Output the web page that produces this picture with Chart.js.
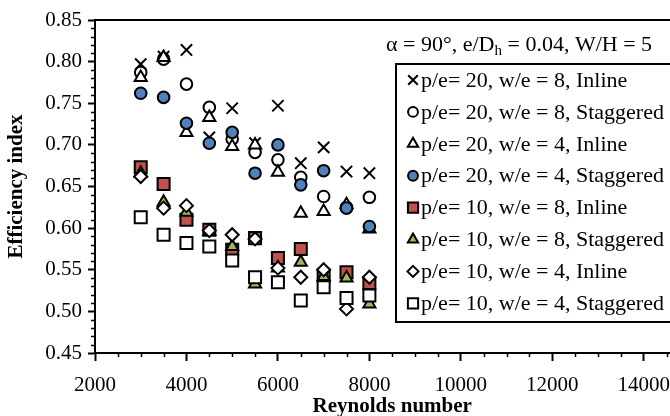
<!DOCTYPE html>
<html><head><meta charset="utf-8">
<script src="https://cdn.jsdelivr.net/npm/chart.js@4/dist/chart.umd.min.js"></script>
<style>
html,body{margin:0;padding:0;background:#fff;overflow:hidden;width:670px;height:416px}
#wrap{position:absolute;left:0;top:0;width:700px;height:416px}
</style></head><body>
<div id="wrap"><canvas id="c"></canvas></div>
<script>
// ---- data ----
const reynolds = [3000, 3500, 4000, 4500, 5000, 5500, 6000, 6500, 7000, 7500, 8000];
const p20w8Inline    = [0.797, 0.806, 0.814, 0.709, 0.744, 0.702, 0.747, 0.678, 0.697, 0.668, 0.666];
const p20w8Staggered = [0.787, 0.803, 0.773, 0.745, 0.707, 0.691, 0.682, 0.661, 0.638, 0.625, 0.637];
const p20w4Inline    = [0.781, 0.805, 0.715, 0.733, 0.698, 0.700, 0.667, 0.618, 0.620, 0.628, 0.599];
const p20w4Staggered = [0.762, 0.757, 0.726, 0.702, 0.715, 0.666, 0.700, 0.652, 0.669, 0.624, 0.602];
const p10w8Inline    = [0.673, 0.653, 0.610, 0.598, 0.574, 0.588, 0.564, 0.575, 0.543, 0.547, 0.534];
const p10w8Staggered = [0.666, 0.631, 0.619, 0.596, 0.578, 0.533, 0.552, 0.559, 0.542, 0.540, 0.509];
const p10w4Inline    = [0.662, 0.624, 0.627, 0.597, 0.592, 0.587, 0.552, 0.541, 0.550, 0.503, 0.541];
const p10w4Staggered = [0.613, 0.592, 0.582, 0.578, 0.561, 0.541, 0.535, 0.513, 0.529, 0.516, 0.519];
const seriesLabels = [
  'p/e= 20, w/e = 8, Inline', 'p/e= 20, w/e = 8, Staggered',
  'p/e= 20, w/e = 4, Inline', 'p/e= 20, w/e = 4, Staggered',
  'p/e= 10, w/e = 8, Inline', 'p/e= 10, w/e = 8, Staggered',
  'p/e= 10, w/e = 4, Inline', 'p/e= 10, w/e = 4, Staggered'
];
const xTicks = [2000, 4000, 6000, 8000, 10000, 12000, 14000];
const yTicks = [0.45, 0.50, 0.55, 0.60, 0.65, 0.70, 0.75, 0.80, 0.85];

const seriesValues = [p20w8Inline, p20w8Staggered, p20w4Inline, p20w4Staggered,
                      p10w8Inline, p10w8Staggered, p10w4Inline, p10w4Staggered];
const styles = [
  {ps:'crossRot', r:8,   bg:'#000000'},
  {ps:'circle',   r:5.8, bg:'#FFFFFF'},
  {ps:'triangle', r:7,   bg:'#FFFFFF'},
  {ps:'circle',   r:5.8, bg:'#4F81BD'},
  {ps:'rect',     r:8.5, bg:'#C0504D'},
  {ps:'triangle', r:7,   bg:'#9BBB59'},
  {ps:'rectRot',  r:6.5, bg:'#FFFFFF'},
  {ps:'rect',     r:8.5, bg:'#FFFFFF'}
];

const datasets = seriesValues.map((vals, i) => ({
  label: seriesLabels[i],
  data: vals.map((v, j) => ({x: reynolds[j], y: v})),
  pointStyle: styles[i].ps,
  pointRadius: styles[i].r,
  pointHoverRadius: styles[i].r,
  pointBackgroundColor: styles[i].bg,
  pointBorderColor: '#000000',
  pointBorderWidth: 2,
  showLine: false,
  order: 20 - i
}));

const SERIF = '"Liberation Serif", "Times New Roman", serif';

const extras = {
  id: 'extras',
  afterDraw(chart) {
    const ctx = chart.ctx, a = chart.chartArea, xs = chart.scales.x, ys = chart.scales.y;
    ctx.save();
    ctx.strokeStyle = '#000'; ctx.lineWidth = 1.5;
    ctx.beginPath();
    for (let v = 2500; v < 15000; v += 500) {
      if (v % 2000 === 0) continue;
      const px = Math.round(xs.getPixelForValue(v)) + 0.5;
      ctx.moveTo(px, a.bottom); ctx.lineTo(px, a.bottom + 4);
    }
    for (let i = 46; i < 85; i++) {
      if (i % 5 === 0) continue;
      const py = Math.round(ys.getPixelForValue(i / 100)) + 0.5;
      ctx.moveTo(a.left - 4, py); ctx.lineTo(a.left, py);
    }
    ctx.stroke();
    // frame top and right
    ctx.lineWidth = 2;
    ctx.beginPath();
    ctx.moveTo(a.left, a.top); ctx.lineTo(a.right, a.top); ctx.lineTo(a.right, a.bottom);
    ctx.stroke();

    // annotation title
    ctx.fillStyle = '#000';
    ctx.textBaseline = 'middle';
    ctx.textAlign = 'left';
    let tx = 386; const ty = 45;
    ctx.font = '22px ' + SERIF;
    const p1 = '\u03B1 = 90\u00B0, e/D';
    ctx.fillText(p1, tx, ty); tx += ctx.measureText(p1).width;
    ctx.font = '15px ' + SERIF;
    ctx.fillText('h', tx, ty + 6); tx += ctx.measureText('h').width;
    ctx.font = '22px ' + SERIF;
    ctx.fillText(' = 0.04, W/H = 5', tx, ty);

    // legend
    const bx = 396, by = 64, bw = 300, bh = 258;
    ctx.fillStyle = '#fff';
    ctx.fillRect(bx, by, bw, bh);
    ctx.lineWidth = 2; ctx.strokeStyle = '#000';
    ctx.strokeRect(bx, by, bw, bh);
    const helpers = Chart.helpers;
    chart.data.datasets.forEach((ds, i) => {
      const yy = 80 + i * 31.9;
      ctx.fillStyle = ds.pointBackgroundColor;
      ctx.strokeStyle = '#000';
      ctx.lineWidth = 2;
      if (helpers && helpers.drawPoint) {
        helpers.drawPoint(ctx, {pointStyle: ds.pointStyle, radius: ds.pointRadius * 0.85, rotation: 0, borderWidth: 2}, 413, yy);
      }
      ctx.fillStyle = '#000';
      ctx.font = '22px ' + SERIF;
      ctx.textBaseline = 'middle';
      ctx.fillText(ds.label, 421, yy + 1);
    });
    ctx.restore();
  }
};

new Chart(document.getElementById('c'), {
  type: 'scatter',
  data: {datasets},
  options: {
    responsive: true,
    maintainAspectRatio: false,
    animation: false,
    layout: {padding: {top: 20, right: 4, left: 0, bottom: 0}},
    plugins: {legend: {display: false}, tooltip: {enabled: false}},
    scales: {
      x: {
        type: 'linear', min: 2000, max: 15000,
        afterFit(s) { s.height = 63; },
        afterBuildTicks(s) { s.ticks = xTicks.map(v => ({value: v})); },
        ticks: {font: {family: SERIF, size: 21}, color: '#000', padding: 12, maxRotation: 0, autoSkip: false,
                callback: v => String(v)},
        grid: {drawOnChartArea: false, drawTicks: true, tickLength: 8, tickWidth: 2, tickColor: '#000'},
        border: {display: true, color: '#000', width: 2},
        title: {display: true, text: 'Reynolds number', color: '#000',
                font: {family: SERIF, size: 21, weight: 'bold'}, padding: {top: 0, bottom: -3}}
      },
      y: {
        type: 'linear', min: 0.45, max: 0.85,
        afterFit(s) { s.width = 95; },
        afterBuildTicks(s) { s.ticks = yTicks.map(v => ({value: v})); },
        ticks: {font: {family: SERIF, size: 21}, color: '#000', padding: 6,
                callback: v => Number(v).toFixed(2)},
        grid: {drawOnChartArea: false, drawTicks: true, tickLength: 7, tickWidth: 2, tickColor: '#000'},
        border: {display: true, color: '#000', width: 2},
        title: {display: true, text: 'Efficiency index', color: '#000',
                font: {family: SERIF, size: 21, weight: 'bold'}, padding: {top: 4, bottom: 0}}
      }
    }
  },
  plugins: [extras]
});
</script>
</body></html>
